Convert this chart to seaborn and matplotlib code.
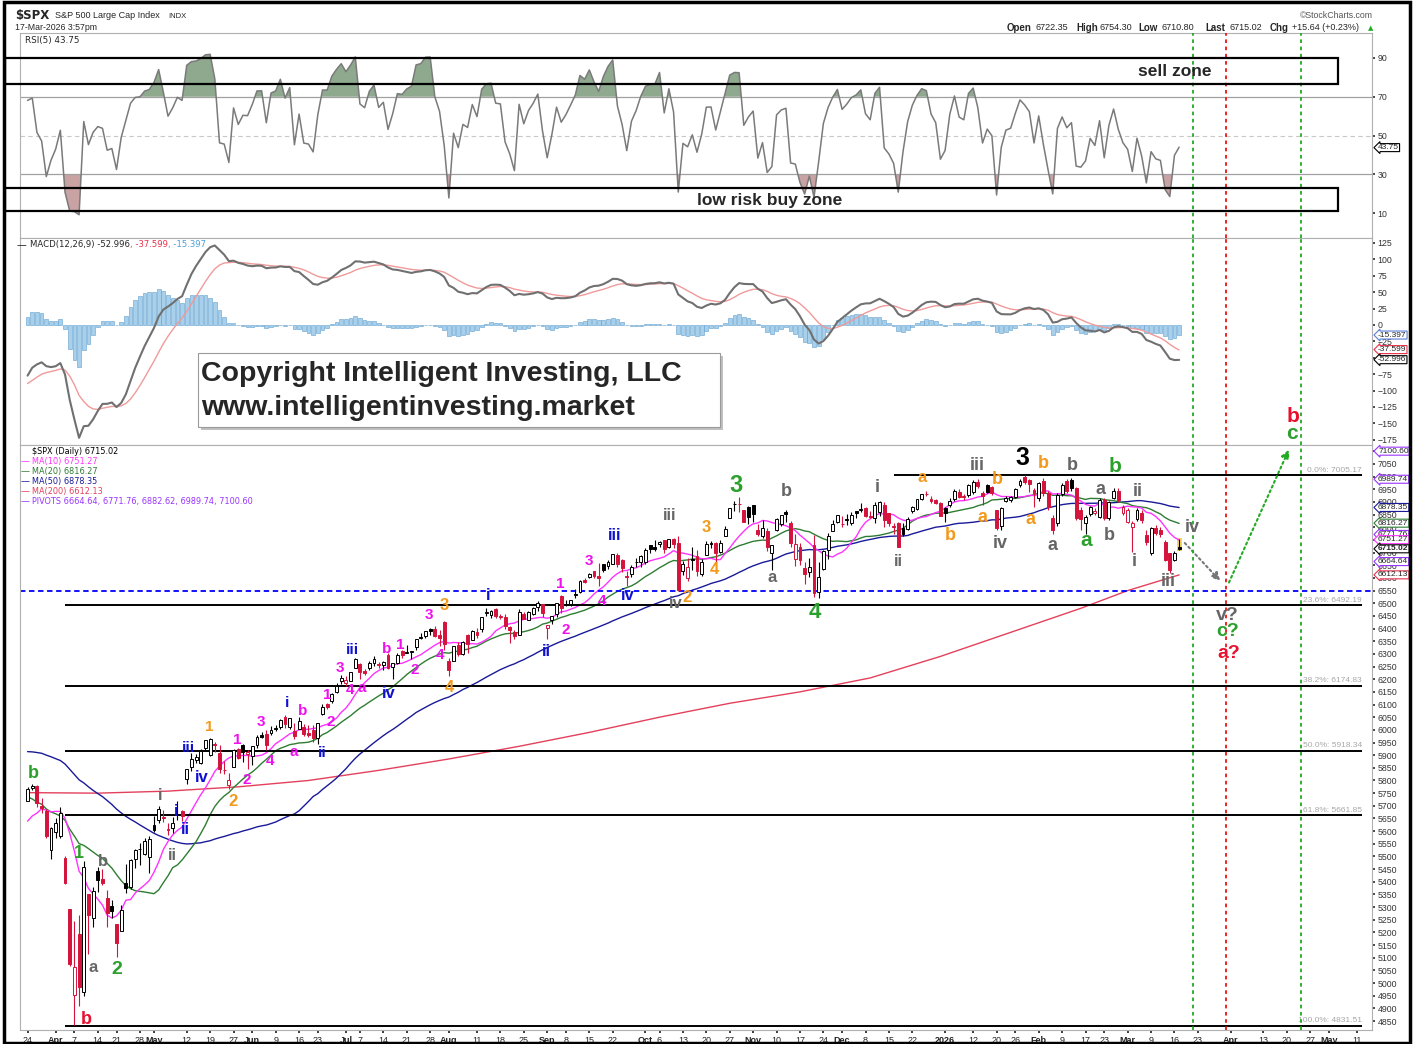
import numpy as np
import pandas as pd
import matplotlib
matplotlib.use('Agg')
import matplotlib.pyplot as plt
from matplotlib.patches import Rectangle
import seaborn as sns

sns.set_theme(style='white')
plt.rcParams['font.family'] = ['Liberation Sans', 'DejaVu Sans']

W, H = 1416, 1044

# closes Jan 2 - Mar 21 2025, only used to warm up the indicators
pre_closes = [5868.55, 5942.47, 5975.38, 5909.03, 5918.25, 5827.04, 5836.22, 5842.91, 5949.91, 5937.34,
              5996.66, 6049.24, 6086.37, 6118.71, 6101.24, 6012.28, 6067.70, 6039.31, 6071.17, 6040.53,
              5994.57, 6037.88, 6061.48, 6083.57, 6025.99, 6066.44, 6068.50, 6051.97, 6115.07, 6114.63,
              6129.58, 6144.15, 6117.52, 6013.13, 5983.25, 5955.25, 5956.06, 5861.57, 5954.50,
              5849.72, 5778.15, 5842.63, 5738.52, 5770.20, 5614.56, 5572.07, 5599.30, 5521.52, 5638.94,
              5675.12, 5614.66, 5675.29, 5662.89, 5667.56]

# daily OHLC, 24-Mar-2025 .. 17-Mar-2026 (one row per month)
opens = [
    5718, 5771, 5780, 5700, 5679, 5527,
    5597, 5580, 5492, 5292, 4953, 5193, 4965, 5353, 5256, 5441, 5411, 5335, 5306, 5232, 5207, 5395, 5381, 5489, 5529, 5508, 5499,
    5626, 5645, 5655, 5606, 5614, 5663, 5679, 5807, 5854, 5880, 5870, 5929, 5902, 5944, 5910, 5841, 5782, 5855, 5925, 5939, 5903,
    5896, 5939, 5978, 5985, 5987, 6005, 6010, 6049, 6010, 5997, 6005, 6013, 5988, 5999, 5969, 6061, 6104, 6112, 6151, 6193,
    6187, 6194, 6246, 6260, 6234, 6243, 6264, 6255, 6255, 6295, 6249, 6263, 6310, 6304, 6306, 6326, 6368, 6370, 6398, 6400, 6375, 6427,
    6271, 6271, 6337, 6299, 6375, 6356, 6388, 6398, 6461, 6452, 6478, 6445, 6446, 6406, 6386, 6374, 6458, 6435, 6458, 6484, 6497,
    6401, 6434, 6456, 6530, 6499, 6499, 6538, 6543, 6591, 6604, 6626, 6608, 6654, 6649, 6655, 6692, 6670, 6609, 6616, 6661, 6661,
    6664, 6731, 6722, 6734, 6749, 6723, 6755, 6737, 6626, 6599, 6676, 6686, 6617, 6690, 6737, 6736, 6703, 6767, 6838, 6891, 6893, 6868, 6881,
    6887, 6791, 6765, 6787, 6700, 6790, 6813, 6862, 6815, 6676, 6722, 6641, 6625, 6731, 6543, 6637, 6709, 6785, 6822,
    6813, 6830, 6815, 6866, 6867, 6875, 6843, 6835, 6860, 6889, 6857, 6807, 6816, 6796, 6794, 6864, 6874, 6913, 6933, 6913, 6906, 6895,
    6875, 6888, 6910, 6941, 6925, 6928, 6941, 6980, 6937, 6967, 6958, 6868, 6805, 6905, 6908, 6921, 6967, 7000, 6987, 6947,
    6914, 6984, 6934, 6835, 6816, 6931, 6984, 6988, 6954, 6870, 6818, 6851, 6858, 6842, 6908, 6836, 6915, 6945, 6855,
    6822, 6802, 6832, 6855, 6770, 6697, 6796, 6790, 6743, 6697, 6671, 6722.35]
highs = [
    5775, 5786, 5783, 5732, 5686, 5617,
    5651, 5695, 5500, 5292, 5246, 5267, 5481, 5353, 5381, 5460, 5450, 5367, 5328, 5232, 5309, 5469, 5489, 5528, 5553, 5572, 5581,
    5658, 5700, 5683, 5633, 5655, 5720, 5684, 5845, 5907, 5906, 5925, 5959, 5968, 5954, 5939, 5878, 5830, 5924, 5930, 5944, 5922,
    5937, 5981, 5991, 5999, 6016, 6021, 6044, 6060, 6046, 6026, 6051, 6024, 6018, 6018, 6028, 6101, 6108, 6146, 6187, 6215,
    6211, 6228, 6285, 6263, 6242, 6270, 6290, 6269, 6270, 6302, 6266, 6305, 6315, 6336, 6310, 6360, 6381, 6390, 6401, 6409, 6394, 6428,
    6284, 6330, 6347, 6350, 6379, 6395, 6402, 6446, 6481, 6474, 6481, 6456, 6456, 6410, 6393, 6479, 6467, 6468, 6485, 6508, 6497,
    6416, 6451, 6502, 6533, 6511, 6513, 6555, 6592, 6601, 6618, 6627, 6657, 6656, 6671, 6694, 6697, 6673, 6627, 6650, 6679, 6689,
    6718, 6731, 6750, 6745, 6750, 6754, 6756, 6764, 6665, 6680, 6723, 6712, 6675, 6744, 6745, 6742, 6749, 6807, 6877, 6902, 6920, 6870, 6883,
    6890, 6814, 6829, 6797, 6730, 6838, 6850, 6869, 6826, 6775, 6737, 6664, 6677, 6771, 6664, 6710, 6776, 6829, 6850,
    6843, 6851, 6862, 6866, 6895, 6879, 6865, 6900, 6903, 6901, 6857, 6815, 6819, 6816, 6840, 6886, 6910, 6933, 6945, 6923, 6913, 6898,
    6882, 6915, 6950, 6950, 6930, 6972, 6986, 6990, 6945, 6972, 6965, 6870, 6880, 6925, 6925, 6955, 6990, 7005, 6992, 6955,
    6980, 6995, 6945, 6850, 6935, 6975, 6990, 6995, 6960, 6880, 6850, 6885, 6875, 6915, 6915, 6905, 6955, 6955, 6890,
    6875, 6825, 6875, 6870, 6790, 6800, 6810, 6800, 6750, 6700, 6705, 6754.30]
lows = [
    5718, 5764, 5695, 5670, 5572, 5489,
    5571, 5571, 5390, 5069, 4835, 4910, 4950, 5115, 5220, 5358, 5386, 5220, 5255, 5101, 5207, 5356, 5371, 5455, 5468, 5506, 5433,
    5597, 5631, 5637, 5585, 5591, 5644, 5640, 5787, 5838, 5868, 5865, 5917, 5895, 5914, 5830, 5825, 5767, 5853, 5886, 5872, 5844,
    5862, 5930, 5967, 5921, 5978, 5994, 6004, 6006, 6003, 5964, 6004, 5974, 5971, 5953, 5943, 6058, 6081, 6107, 6146, 6183,
    6172, 6191, 6244, 6201, 6217, 6236, 6251, 6245, 6236, 6242, 6201, 6262, 6285, 6303, 6281, 6317, 6360, 6363, 6375, 6365, 6331, 6315,
    6212, 6271, 6290, 6294, 6305, 6355, 6364, 6385, 6450, 6441, 6443, 6437, 6400, 6343, 6360, 6374, 6438, 6432, 6454, 6470, 6444,
    6360, 6417, 6444, 6460, 6488, 6491, 6521, 6539, 6579, 6599, 6599, 6570, 6624, 6636, 6654, 6643, 6625, 6569, 6604, 6644, 6643,
    6656, 6698, 6705, 6722, 6700, 6717, 6717, 6550, 6610, 6589, 6632, 6607, 6608, 6690, 6717, 6658, 6699, 6767, 6838, 6865, 6860, 6822, 6812,
    6820, 6766, 6759, 6708, 6631, 6786, 6806, 6822, 6723, 6646, 6650, 6577, 6605, 6525, 6521, 6632, 6675, 6785, 6815,
    6800, 6810, 6810, 6837, 6861, 6841, 6835, 6818, 6845, 6801, 6804, 6775, 6721, 6767, 6790, 6858, 6867, 6907, 6923, 6896, 6893, 6845,
    6822, 6880, 6905, 6915, 6908, 6920, 6930, 6955, 6890, 6935, 6928, 6789, 6790, 6898, 6900, 6915, 6960, 6970, 6940, 6881,
    6905, 6925, 6870, 6775, 6805, 6925, 6935, 6945, 6830, 6790, 6774, 6845, 6850, 6835, 6830, 6830, 6910, 6900, 6848,
    6815, 6704, 6825, 6815, 6730, 6690, 6770, 6760, 6665, 6620, 6665, 6710.80]
closes = [
    5767.57, 5776.65, 5712.20, 5693.31, 5580.94, 5611.85,
    5633.07, 5670.97, 5396.52, 5074.08, 5062.25, 4982.77, 5456.90, 5268.05, 5363.36, 5405.97, 5396.63, 5275.70, 5282.70,
    5158.20, 5287.76, 5375.86, 5484.77, 5525.21, 5528.75, 5560.83, 5569.06,
    5604.14, 5686.67, 5650.38, 5606.91, 5631.28, 5663.94, 5659.91, 5844.19, 5886.55, 5892.58, 5916.93, 5958.38, 5963.60,
    5940.46, 5844.61, 5842.01, 5802.82, 5921.54, 5888.55, 5912.17, 5911.69,
    5935.94, 5970.37, 5970.81, 5939.30, 6000.36, 6005.88, 6038.81, 6022.24, 6045.26, 5976.97, 6033.11, 5982.72, 5980.87,
    5967.84, 6025.17, 6092.18, 6092.16, 6141.02, 6173.07, 6204.95,
    6198.01, 6227.42, 6279.35, 6229.98, 6225.52, 6263.26, 6280.46, 6259.75, 6268.56, 6243.76, 6263.70, 6297.36, 6296.79,
    6305.60, 6309.62, 6358.91, 6363.35, 6388.64, 6389.77, 6370.86, 6362.90, 6339.39,
    6238.01, 6329.94, 6299.19, 6345.06, 6340.00, 6389.45, 6373.45, 6445.76, 6466.58, 6468.54, 6449.80, 6449.15, 6411.37,
    6395.78, 6370.17, 6466.91, 6439.32, 6465.94, 6481.40, 6501.86, 6460.26,
    6415.54, 6448.26, 6502.08, 6481.50, 6495.15, 6512.61, 6532.04, 6587.47, 6584.29, 6615.28, 6606.76, 6600.35, 6631.96,
    6664.36, 6693.75, 6656.92, 6637.97, 6604.72, 6643.70, 6661.21, 6688.46,
    6711.20, 6715.35, 6715.79, 6740.28, 6714.59, 6753.72, 6735.11, 6552.51, 6654.72, 6644.31, 6671.06, 6629.07, 6664.01,
    6735.13, 6735.35, 6699.40, 6738.44, 6791.69, 6875.16, 6890.89, 6890.59, 6822.34, 6840.20,
    6851.97, 6771.55, 6796.29, 6720.32, 6728.80, 6832.43, 6846.61, 6850.92, 6737.49, 6734.11, 6672.41, 6617.32, 6642.16,
    6538.76, 6602.99, 6705.12, 6765.88, 6812.61, 6849.09,
    6812.63, 6829.37, 6849.72, 6857.12, 6870.40, 6846.51, 6840.51, 6886.68, 6901.00, 6827.41, 6816.51, 6800.26, 6721.43,
    6774.76, 6834.50, 6878.49, 6909.79, 6932.05, 6929.94, 6905.74, 6896.24, 6845.50,
    6855, 6905, 6945, 6921, 6918, 6967, 6980, 6963, 6924, 6941, 6934, 6796, 6875, 6914, 6918, 6950, 6984, 6978, 6971, 6934,
    6974, 6934, 6881, 6789, 6928, 6967, 6942, 6955, 6836, 6832, 6842, 6879, 6866, 6908, 6836, 6901, 6945, 6908, 6881,
    6868, 6816, 6868, 6829, 6740, 6796, 6776, 6772, 6671, 6632, 6699.38, 6715.02]

# 200-day average (trading-day index, value)
ma200_idx = [0, 15, 30, 45, 60, 75, 90, 105, 120, 135, 150, 165, 180, 195, 210, 225, 235, 246]
ma200_vals = [5752, 5750, 5758, 5775, 5800, 5840, 5885, 5935, 5990, 6050, 6105, 6150, 6205, 6290, 6385, 6480, 6550, 6612]

fib_pcts = ['0.0%', '23.6%', '38.2%', '50.0%', '61.8%', '100.0%']
fib_levels = [7005.17, 6492.19, 6174.83, 5918.34, 5661.85, 4831.51]

price_tags = [7100.60, 6989.74, 6878.35, 6816.27, 6771.76, 6751.27, 6715.02, 6664.64, 6612.13]
price_tag_cols = ['#9933ff', '#9933ff', '#1a1a99', '#2e7d32', '#9933ff', '#ff33ff', 'black', '#9933ff', '#e8304a']
macd_tags = [-15.397, -37.599, -52.996]
macd_tag_cols = ['#5b7fd6', '#e8304a', 'black']

holidays = ['2025-04-18', '2025-05-26', '2025-06-19', '2025-07-04', '2025-09-01', '2025-11-27',
            '2025-12-25', '2026-01-01', '2026-01-19', '2026-02-16', '2026-04-03']
days = pd.bdate_range('2025-03-24', '2026-05-29')
days = days[~days.isin(pd.to_datetime(holidays))]
pos = {d.strftime('%Y-%m-%d'): i for i, d in enumerate(days)}

tick_dates = ['2025-03-24', '2025-04-01', '2025-04-07', '2025-04-14', '2025-04-21', '2025-04-28', '2025-05-01',
              '2025-05-12', '2025-05-19', '2025-05-27', '2025-06-02', '2025-06-09', '2025-06-16', '2025-06-23',
              '2025-07-01', '2025-07-07', '2025-07-14', '2025-07-21', '2025-07-28', '2025-08-01', '2025-08-11',
              '2025-08-18', '2025-08-25', '2025-09-02', '2025-09-08', '2025-09-15', '2025-09-22', '2025-10-01',
              '2025-10-06', '2025-10-13', '2025-10-20', '2025-10-27', '2025-11-03', '2025-11-10', '2025-11-17',
              '2025-11-24', '2025-12-01', '2025-12-08', '2025-12-15', '2025-12-22', '2026-01-02', '2026-01-12',
              '2026-01-20', '2026-01-26', '2026-02-02', '2026-02-09', '2026-02-17', '2026-02-23', '2026-03-02',
              '2026-03-09', '2026-03-16', '2026-03-23', '2026-04-01', '2026-04-13', '2026-04-20', '2026-04-27',
              '2026-05-01', '2026-05-11']
tick_labels = ['24', 'Apr', '7', '14', '21', '28', 'May', '12', '19', '27', 'Jun', '9', '16', '23', 'Jul', '7', '14',
               '21', '28', 'Aug', '11', '18', '25', 'Sep', '8', '15', '22', 'Oct', '6', '13', '20', '27', 'Nov', '10',
               '17', '24', 'Dec', '8', '15', '22', '2026', '12', '20', '26', 'Feb', '9', '17', '23', 'Mar', '9', '16',
               '23', 'Apr', '13', '20', '27', 'May', '11']

# forecast markers (dates of the vertical lines)
vline_dates = ['2026-03-20', '2026-03-31', '2026-04-23']
vline_cols = ['#22aa22', '#ee1111', '#22aa22']

# ---- indicators ----
allc = pd.Series(pre_closes + closes, dtype=float)
n0 = len(pre_closes)
ma10 = allc.rolling(10).mean().iloc[n0:].values
ma20 = allc.rolling(20).mean().iloc[n0:].values
ma50 = allc.rolling(50).mean().iloc[n0:].values
ema12 = allc.ewm(span=12, adjust=False).mean()
ema26 = allc.ewm(span=26, adjust=False).mean()
macd = ema12 - ema26
signal = macd.ewm(span=9, adjust=False).mean()
hist = (macd - signal).iloc[n0:].values
macd = macd.iloc[n0:].values
signal = signal.iloc[n0:].values
delta = allc.diff()
up = delta.clip(lower=0).ewm(alpha=1 / 5, adjust=False).mean()
dn = (-delta.clip(upper=0)).ewm(alpha=1 / 5, adjust=False).mean()
rsi = (100 - 100 / (1 + up / dn)).iloc[n0:].values

x = np.arange(len(closes))
o, hi, lo, c = (np.array(a, dtype=float) for a in (opens, highs, lows, closes))
prev = np.r_[pre_closes[-1], c[:-1]]

# ---- layout ----
fig = plt.figure(figsize=(W / 100, H / 100), dpi=100)


def panel(top, bottom):
    return fig.add_axes([20 / W, 1 - bottom / H, (1372 - 20) / W, (bottom - top) / H])


ax_rsi = panel(33, 238)
ax_macd = panel(238, 445)
ax = panel(445, 1030)
XL = (-1.62, 287.2)

for a in (ax_rsi, ax_macd, ax):
    a.set_xlim(*XL)
    a.yaxis.tick_right()
    a.tick_params(axis='y', right=True, left=False, length=2, pad=2, labelsize=6.3, colors='#333333')
    a.tick_params(axis='x', bottom=False, labelbottom=False)
    for s in a.spines.values():
        s.set_color('#b0b0b0')
        s.set_linewidth(0.8)
    for d, col in zip(vline_dates, vline_cols):
        a.axvline(pos[d], color=col, ls=(0, (2, 2)), lw=1.3, zorder=4)

# ---- RSI ----
ax_rsi.set_ylim(-2.9, 102.9)
ax_rsi.set_yticks([10, 30, 50, 70, 90])
ax_rsi.axhline(70, color='#a0a0a0', lw=0.9)
ax_rsi.axhline(30, color='#a0a0a0', lw=0.9)
ax_rsi.axhline(50, color='#c8c8c8', lw=0.8, ls=(0, (4, 3)))
ax_rsi.fill_between(x, rsi, 70, where=rsi > 70, interpolate=True, color='#8fa98f', lw=0)
ax_rsi.fill_between(x, rsi, 30, where=rsi < 30, interpolate=True, color='#c9a3a3', lw=0)
sns.lineplot(x=x, y=rsi, ax=ax_rsi, color='#7a7a7a', lw=1.1, legend=False)
ax_rsi.set_xlabel('')
ax_rsi.set_ylabel('')

# ---- MACD ----
ax_macd.set_ylim(-183.1, 132.6)
ax_macd.set_yticks(range(-175, 126, 25))
ax_macd.bar(x, hist, width=0.8, color='#a9d0ea', edgecolor='#5f9fd0', lw=0.4)
sns.lineplot(x=x, y=signal, ax=ax_macd, color='#f09a9a', lw=1.0, legend=False)
sns.lineplot(x=x, y=macd, ax=ax_macd, color='#707070', lw=1.5, legend=False)
ax_macd.set_xlabel('')
ax_macd.set_ylabel('')

# ---- price ----
ax.set_ylim(4814.6, 7125)
ax.set_yticks(range(4850, 7101, 50))
ax.set_xticks([pos[d] for d in tick_dates])
ax.set_xticklabels(tick_labels)
ax.tick_params(axis='x', bottom=True, labelbottom=True, length=2, pad=2, labelsize=6.5, colors='#222222')
for t in ax.get_xticklabels():
    if not t.get_text().isdigit() or t.get_text() == '2026':
        t.set_fontweight('bold')

ax.add_patch(Rectangle((245.45, 6708), 1.1, 50, color='#f6d66a', lw=0, zorder=1))

red = '#d4143c'
col = np.where(c >= prev, 'black', red)
face = np.where(c >= o, 'white', col)
ax.vlines(x, lo, hi, colors=col, lw=0.8, zorder=3)
body = np.where(np.abs(c - o) < 1.5, 1.5, c - o)
ax.bar(x, body, bottom=o, width=0.62, color=face, edgecolor=col, lw=0.7, zorder=4)

sns.lineplot(x=ma200_idx, y=ma200_vals, ax=ax, color='#e3405c', lw=1.0, legend=False)
sns.lineplot(x=x, y=ma50, ax=ax, color='#1a1a99', lw=1.0, legend=False)
sns.lineplot(x=x, y=ma20, ax=ax, color='#2e7d32', lw=1.0, legend=False)
sns.lineplot(x=x, y=ma10, ax=ax, color='#ff33ff', lw=1.0, legend=False)
ax.set_xlabel('')
ax.set_ylabel('')

ax.axhline(6550, color='#0000ff', ls=(0, (3, 2)), lw=1.3, zorder=2)
for p, lv in zip(fib_pcts, fib_levels):
    x0 = pos['2025-12-16'] if p == '0.0%' else pos['2025-04-03']
    ax.hlines(lv, x0, 285, color='black', lw=1.4, zorder=2)
    ax.text(285, lv + 6, f'{p}: {lv:.2f}', ha='right', va='bottom', fontsize=6, color='#a8a8a8')

# forecast path
ax.annotate('', xy=(255.2, 6580), xytext=(246.8, 6746), annotation_clip=False,
            arrowprops=dict(arrowstyle='-|>', ls=(0, (1, 1.5)), color='#777777', lw=1.5, mutation_scale=12))
ax.annotate('', xy=(269.7, 7117), xytext=(256.4, 6572), annotation_clip=False,
            arrowprops=dict(arrowstyle='-|>', ls=(0, (1, 1.5)), color='#22aa22', lw=1.5, mutation_scale=12))


# ---- right-hand value tags ----
def tag(a, y, txt, ec, bold=False):
    a.text(1.0045, y, txt, transform=a.get_yaxis_transform(), fontsize=6, va='center', ha='left',
           fontweight='bold' if bold else 'normal', clip_on=False, zorder=6,
           bbox=dict(boxstyle='larrow,pad=0.06', fc='white', ec=ec, lw=0.8))


for v, cc in zip(price_tags, price_tag_cols):
    tag(ax, v, f'{v:.2f}', cc, bold=(cc == 'black'))
for v, cc in zip(macd_tags, macd_tag_cols):
    tag(ax_macd, v, f'{v:.3f}', cc)
tag(ax_rsi, 43.75, '43.75', 'black')


# ---- figure-level text (pixel positions from the top-left) ----
def ftext(xp, yp, s, **kw):
    return fig.text(xp / W, 1 - yp / H, s, **kw)


def chain(prev_text, s, gap=0.0, **kw):
    # place text right after another text
    return ax_macd.annotate(s, xy=(1, 0.5), xycoords=prev_text, xytext=(gap, 0), textcoords='offset points',
                            ha='left', va='center', annotation_clip=False, **kw)


ftext(15, 16, '$SPX', fontsize=8.5, fontweight='bold', family='DejaVu Sans', va='center')
ftext(55, 16, 'S&P 500 Large Cap Index', fontsize=6.5, va='center')
ftext(168, 16, 'INDX', fontsize=5.5, va='center')
ftext(15, 28, '17-Mar-2026 3:57pm', fontsize=6.3, va='center')
ftext(25, 41, 'RSI(5) 43.75', fontsize=6.3, family='DejaVu Sans', va='center')
ftext(1373, 16, '\u00a9StockCharts.com', fontsize=6.3, color='#555555', ha='right', va='center')
for xp, s, b in [(1007, 'Open', True), (1036, '6722.35', False), (1076, 'High', True), (1100, '6754.30', False),
                 (1138, 'Low', True), (1162, '6710.80', False), (1205, 'Last', True), (1229, '6715.02', False),
                 (1270, 'Chg', True), (1292, '+15.64 (+0.23%)', False)]:
    ftext(xp, 28, s, fontsize=7 if b else 6.5, fontweight='bold' if b else 'normal', va='center')
ftext(1368, 28, '\u25b2', fontsize=5, color='#22aa22', va='center', family='DejaVu Sans')

ftext(17, 245, '\u2014', fontsize=7, va='center', family='DejaVu Sans')
m1 = ftext(30, 245, 'MACD(12,26,9) -52.996', fontsize=6.1, va='center', family='DejaVu Sans')
m2 = chain(m1, ', -37.599', fontsize=6.1, color='#e8304a', family='DejaVu Sans')
chain(m2, ', -15.397', fontsize=6.1, color='#4a9fd8', family='DejaVu Sans')

legend_rows = [('$SPX (Daily) 6715.02', 'black'), ('MA(10) 6751.27', '#ff33ff'), ('MA(20) 6816.27', '#2e7d32'),
               ('MA(50) 6878.35', '#1a1a99'), ('MA(200) 6612.13', '#e3405c'),
               ('PIVOTS 6664.64, 6771.76, 6882.62, 6989.74, 7100.60', '#9933ff')]
for k, (s, cc) in enumerate(legend_rows):
    yp = 452 + k * 9.9
    if k > 0:
        ftext(21, yp, '\u2014', fontsize=6.5, color=cc, va='center', family='DejaVu Sans')
    ftext(32, yp, s, fontsize=5.9, color=cc, va='center', family='DejaVu Sans')

# zone boxes in the RSI panel
fig.add_artist(Rectangle((5 / W, 1 - 84 / H), 1333 / W, 26 / H, transform=fig.transFigure,
                         fill=False, ec='black', lw=1.6))
fig.add_artist(Rectangle((5 / W, 1 - 211 / H), 1333 / W, 23 / H, transform=fig.transFigure,
                         fill=False, ec='black', lw=1.6))
ftext(1175, 71, 'sell zone', fontsize=12.5, fontweight='bold', ha='center', va='center')
ftext(770, 200, 'low risk buy zone', fontsize=12.5, fontweight='bold', ha='center', va='center')

# copyright box
fig.add_artist(Rectangle((201 / W, 1 - 430 / H), 522 / W, 74 / H, transform=fig.transFigure,
                         fc='#c0c0c0', ec='none'))
fig.add_artist(Rectangle((198 / W, 1 - 427 / H), 522 / W, 74 / H, transform=fig.transFigure,
                         fc='white', ec='#9a9a9a', lw=0.8))
ftext(201, 374, 'Copyright Intelligent Investing, LLC', fontsize=20.5, fontweight='bold', va='center')
ftext(201, 408, 'www.intelligentinvesting.market', fontsize=20.5, fontweight='bold', va='center')

# Elliott wave labels
G, GR, BL, MG, OR, RD, BK = '#2ca02c', '#666666', '#1010d0', '#ee11ee', '#f39a1c', '#e8102e', 'black'
wave_labels = [
    ('b', 33, 774, G, 13), ('1', 79, 853, G, 13), ('b', 103, 861, GR, 12), ('a', 93, 967, GR, 12),
    ('2', 117, 970, G, 14), ('b', 86, 1020, RD, 13), ('i', 160, 796, GR, 12), ('ii', 172, 856, GR, 12),
    ('i', 176, 812, BL, 12), ('ii', 185, 829, BL, 12), ('iii', 188, 748, BL, 11), ('iv', 202, 777, BL, 12),
    ('1', 209, 727, OR, 11), ('2', 233, 801, OR, 12), ('1', 237, 740, MG, 11), ('2', 247, 780, MG, 11),
    ('3', 261, 722, MG, 11), ('4', 270, 761, MG, 11), ('i', 287, 703, BL, 11), ('b', 303, 711, MG, 11),
    ('a', 294, 752, MG, 11), ('ii', 322, 753, BL, 11), ('1', 327, 695, MG, 11), ('2', 331, 722, MG, 11),
    ('3', 340, 668, MG, 11), ('4', 350, 690, MG, 11), ('a', 362, 688, MG, 11), ('iii', 352, 650, BL, 11),
    ('iv', 389, 693, BL, 12), ('b', 387, 649, MG, 11), ('1', 400, 645, MG, 11), ('2', 415, 670, MG, 11),
    ('3', 429, 615, MG, 11), ('4', 440, 655, MG, 11), ('3', 444, 606, OR, 12), ('4', 449, 687, OR, 12),
    ('i', 488, 596, BL, 12), ('ii', 546, 652, BL, 12), ('1', 560, 584, MG, 11), ('2', 566, 630, MG, 11),
    ('3', 589, 561, MG, 11), ('4', 602, 601, MG, 11), ('iii', 615, 535, BL, 12), ('iv', 628, 596, BL, 12),
    ('iv', 676, 604, GR, 12), ('2', 687, 598, OR, 12), ('iii', 670, 516, GR, 12), ('3', 706, 527, OR, 12),
    ('4', 714, 570, OR, 12), ('3', 736, 485, G, 17), ('b', 786, 492, GR, 13), ('a', 772, 577, GR, 12),
    ('4', 815, 613, G, 16), ('i', 877, 488, GR, 13), ('ii', 898, 561, GR, 12), ('a', 922, 478, OR, 12),
    ('iii', 977, 465, GR, 13), ('b', 997, 479, OR, 13), ('3', 1022, 458, BK, 18), ('b', 1043, 463, OR, 13),
    ('b', 1072, 465, GR, 13), ('b', 1115, 467, G, 15), ('a', 983, 518, OR, 13), ('b', 950, 535, OR, 13),
    ('iv', 1000, 543, GR, 13), ('a', 1030, 520, OR, 13), ('a', 1053, 545, GR, 13), ('a', 1100, 489, GR, 13),
    ('ii', 1138, 491, GR, 13), ('a', 1086, 540, G, 15), ('b', 1109, 536, GR, 13), ('i', 1134, 561, GR, 13),
    ('iii', 1168, 582, GR, 13), ('iv', 1192, 528, GR, 13), ('v?', 1227, 615, GR, 14), ('c?', 1228, 632, G, 14),
    ('a?', 1229, 654, RD, 14), ('b', 1293, 417, RD, 15), ('c', 1292, 433, G, 15)]
for s, xp, yp, cc, fs in wave_labels:
    ftext(xp, yp, s, color=cc, fontsize=fs, fontweight='bold', ha='center', va='center')

# outer frame
fig.add_artist(Rectangle((4 / W, 1 / H), 1406 / W, 1041 / H, transform=fig.transFigure,
                         fill=False, ec='black', lw=2.5))

fig.savefig('out.png', dpi=100)
